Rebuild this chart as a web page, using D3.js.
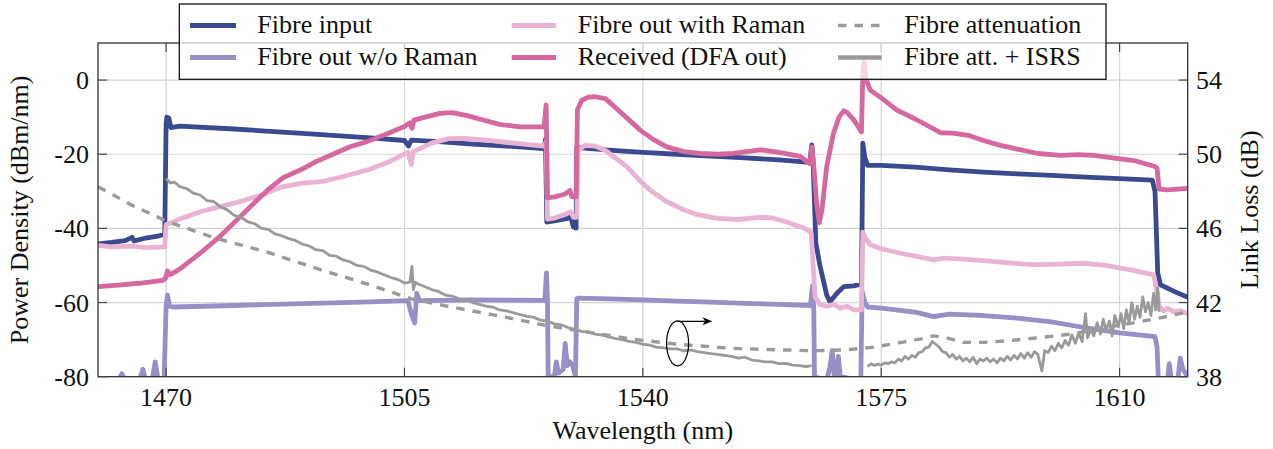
<!DOCTYPE html>
<html><head><meta charset="utf-8"><script src="https://cdn.jsdelivr.net/npm/d3@7"></script></head>
<body style="margin:0">
<svg id="chart" width="1273" height="449"></svg>
<script>
// ---------------- DATA ----------------
const xTicks = [1470, 1505, 1540, 1575, 1610];
const yLeftTicks = [-80, -60, -40, -20, 0];
const yRightTicks = [38, 42, 46, 50, 54];

const seriesNames = ["Fibre input", "Fibre out w/o Raman", "Fibre out with Raman",
  "Received (DFA out)", "Fibre attenuation", "Fibre att. + ISRS"];

// [wavelength nm, dBm/nm]
const fibreInput = [[1460,-44.2],[1462,-43.8],[1464,-43.3],[1465,-42.4],[1465.3,-43.4],[1467,-42.6],[1469,-42],[1469.8,-41.5],[1470,-12],[1470.1,-10],[1470.4,-10.2],[1470.7,-12.8],[1472,-12.4],[1480,-13.2],[1490,-14.4],[1500,-15.6],[1505,-16.3],[1505.6,-17.8],[1506,-16.2],[1510,-16.6],[1515,-17.3],[1520,-17.8],[1525.5,-18.5],[1525.7,-16],[1525.9,-38.3],[1527,-38],[1529,-37.3],[1529.4,-36.8],[1529.8,-39.6],[1530.2,-39.9],[1530.3,-18.2],[1531,-18.3],[1535,-18.9],[1540,-19.5],[1545,-20],[1550,-20.5],[1555,-21],[1560,-21.5],[1564.5,-22.2],[1564.8,-17.5],[1565,-22],[1565.4,-44],[1566,-50],[1567,-58],[1567.5,-59.8],[1568.5,-57.5],[1569.5,-55.7],[1571,-55.5],[1572.1,-55],[1572.3,-17],[1572.6,-21],[1573,-23],[1575,-23],[1580,-23.5],[1585,-24.2],[1590,-24.8],[1595,-25.3],[1600,-25.7],[1605,-26.2],[1610,-26.6],[1614.8,-27],[1615.2,-30],[1615.6,-52],[1616,-55.2],[1618,-57],[1620,-58.6]];

const outNoRaman = [[1460,-81],[1462,-80.5],[1463,-81],[1463.5,-79.2],[1464,-81],[1466.2,-80.5],[1466.6,-78],[1467,-81],[1468,-80.5],[1468.4,-76],[1468.8,-80.5],[1469.7,-81],[1470,-61],[1470.2,-58],[1470.5,-61],[1471,-61.2],[1480,-60.8],[1490,-60.3],[1500,-59.8],[1505.5,-59.5],[1506,-63],[1506.5,-65.5],[1506.8,-57.5],[1507.2,-59.5],[1515,-59.3],[1525.6,-59.4],[1525.85,-52],[1526,-60],[1526.1,-80],[1527,-80],[1527.3,-76],[1527.6,-79],[1528.3,-78],[1528.6,-71],[1528.9,-77],[1529.3,-76],[1529.7,-77],[1530.1,-80],[1530.3,-59],[1530.6,-58.8],[1535,-59],[1540,-59.3],[1545,-59.6],[1550,-59.9],[1555,-60.2],[1560,-60.5],[1564.6,-60.8],[1564.9,-55.5],[1565.1,-62],[1565.2,-80],[1567,-81],[1567.5,-77],[1567.8,-73],[1568.1,-80],[1568.4,-80],[1568.7,-74.5],[1569,-80],[1572,-81],[1572.2,-57],[1572.6,-60],[1573,-61.2],[1575,-61.5],[1580,-62.6],[1582.7,-63.8],[1585,-63.1],[1590,-63.5],[1595,-64.2],[1600,-65.2],[1605,-66.8],[1610,-68.2],[1615.2,-69.2],[1615.5,-72],[1615.7,-81],[1617,-81],[1617.3,-76.5],[1617.6,-81],[1618.6,-80],[1618.9,-75],[1619.3,-78],[1620,-80]];

const outWithRaman = [[1460,-44.6],[1462,-45],[1465,-44.8],[1467,-45.2],[1469.8,-45],[1470,-39],[1470.5,-38.6],[1472,-37.5],[1475,-35.5],[1480,-33.2],[1484,-31],[1487,-28.8],[1490,-27.8],[1493,-27.3],[1496,-26],[1500,-24],[1503,-21.8],[1505.5,-19.5],[1506,-22.8],[1506.3,-19.3],[1509,-17],[1511.5,-15.8],[1514,-15.7],[1517,-16.2],[1521,-17],[1525.5,-17.8],[1525.8,-16.5],[1526,-37.5],[1527,-37.2],[1528.5,-36.3],[1529.4,-35.5],[1529.8,-37],[1530.3,-37],[1530.5,-19],[1531.5,-17.6],[1533,-17.8],[1534.5,-19],[1536,-21],[1537.7,-23.5],[1539.5,-27],[1541,-29.6],[1543.5,-32.8],[1546,-35],[1548,-36.3],[1551,-37.3],[1554,-37.6],[1557,-37],[1559,-37.2],[1561,-38.2],[1563.5,-39.8],[1564.7,-41],[1565,-50],[1565.3,-58.5],[1566,-60.5],[1567,-61],[1568,-60.5],[1569,-61.5],[1570,-61],[1571,-62],[1572.1,-62],[1572.3,-41],[1572.6,-42.5],[1573.4,-44.4],[1575,-45.5],[1577.8,-46.7],[1580,-47.5],[1582.7,-48.5],[1584.2,-48],[1587,-48.3],[1590,-48.7],[1595,-49.5],[1597.4,-49.8],[1600,-49.7],[1604.7,-49.4],[1608,-50],[1612,-51.3],[1615,-52.5],[1615.5,-57],[1615.8,-61],[1616.5,-62.3],[1617,-61.5],[1618,-62.5],[1619,-62.2],[1620,-63]];

const received = [[1460,-55.7],[1463,-55.3],[1466,-54.8],[1469.5,-54],[1469.9,-53.5],[1470.2,-51.5],[1470.6,-52.5],[1472,-51],[1475,-46.7],[1478,-42],[1480.4,-37.7],[1483,-33],[1485,-29.5],[1487.2,-26.3],[1490,-24],[1492,-22],[1494.5,-20],[1497,-18],[1499.5,-16.6],[1502,-14.8],[1505,-12.5],[1505.8,-11.5],[1506.1,-13],[1506.4,-10.8],[1508,-10],[1510.2,-9],[1512,-8.8],[1514.2,-9.6],[1516,-10.5],[1519.1,-12],[1522,-12.6],[1525.5,-12.6],[1525.8,-6.7],[1526,-31.8],[1527,-31.5],[1528.5,-30.8],[1529.3,-29.8],[1529.6,-31.5],[1530.2,-31.5],[1530.4,-8],[1531,-5.5],[1532,-4.6],[1533,-4.5],[1534.5,-5],[1536.2,-7.8],[1538,-10.8],[1539.6,-13.5],[1541.5,-16],[1543.5,-18],[1546,-19.3],[1548.4,-19.8],[1551,-20],[1553.3,-19.8],[1555.5,-19.2],[1557.3,-18.8],[1560,-19.5],[1563.1,-20.6],[1564.5,-22.5],[1564.8,-18],[1565.1,-23],[1565.5,-33],[1565.9,-38.5],[1566.3,-35],[1567,-23.3],[1568,-14.3],[1568.8,-10],[1569.5,-8.3],[1570,-8.8],[1571,-10.8],[1572.1,-14],[1572.3,2],[1572.5,4.8],[1572.8,0],[1573.4,-2.7],[1575,-4.8],[1577.3,-8.1],[1580,-10.5],[1583.7,-14.2],[1585.5,-14.3],[1588,-15],[1590,-16.3],[1592.5,-17.6],[1595,-18.6],[1598,-19.8],[1601.3,-20.3],[1604,-20.1],[1606.2,-20.3],[1609,-21],[1612.1,-21.7],[1615.2,-23.3],[1615.5,-23.8],[1615.8,-29.4],[1617,-29.6],[1620,-29.2]];

// [wavelength nm, link loss dB] (right axis)
const fibreAtt = [[1460,48.25],[1465,47.25],[1470,46.4],[1477,45.5],[1485,44.7],[1492,43.85],[1500,42.95],[1506,42.2],[1512,41.75],[1520,41.2],[1526,40.75],[1532,40.4],[1538,40.05],[1545,39.75],[1553,39.53],[1560,39.45],[1565,39.4],[1570,39.45],[1574,39.6],[1578,39.85],[1581,40.05],[1582.7,40.2],[1584.5,40.1],[1587,39.85],[1590,39.85],[1594,39.95],[1598,40.1],[1603,40.3],[1607,40.6],[1612,40.9],[1617,41.25],[1620,41.5]];

const attIsrsA = [[1470,48.7],[1470.6,48.45],[1471.2,48.5],[1472,48.25],[1473,48.15],[1474,47.9],[1475,47.8],[1476,47.5],[1477,47.45],[1478,47.15],[1479,47.0],[1480,46.7],[1481,46.6],[1482,46.35],[1483,46.25],[1484,46.0],[1485,45.95],[1486,45.7],[1487,45.6],[1488,45.45],[1489,45.35],[1490,45.15],[1491,45.05],[1492,44.85],[1493,44.8],[1494,44.55],[1495,44.5],[1496,44.3],[1497,44.2],[1498,44.0],[1499,43.95],[1500,43.75],[1501,43.65],[1502,43.5],[1503,43.35],[1504,43.25],[1505,43.05],[1505.8,43.1],[1506.1,43.95],[1506.3,42.7],[1506.6,43.1],[1507,43.0],[1508,42.85],[1509,42.7],[1510,42.6],[1511,42.4],[1512,42.35],[1513,42.2],[1514,42.15],[1515,42.0],[1516,41.9],[1517,41.8],[1518,41.75],[1519,41.6],[1520,41.55],[1521,41.45],[1522,41.35],[1523,41.25],[1524,41.2],[1525,41.05],[1526,41.0],[1527,40.85],[1528,40.8],[1529,40.65],[1530,40.55],[1531,40.45],[1532,40.4],[1533,40.3],[1534,40.25],[1535,40.15],[1536,40.05],[1537,40.0],[1538,39.9],[1539,39.85],[1540,39.75],[1541,39.7],[1542,39.6],[1543,39.55],[1544,39.5],[1545,39.5],[1546,39.4],[1547,39.45],[1548,39.35],[1549,39.3],[1550,39.25],[1551,39.2],[1552,39.15],[1553,39.1],[1554,39.0],[1555,39.05],[1556,38.9],[1557,38.85],[1558,38.8],[1559,38.8],[1560,38.7],[1561,38.72],[1562,38.62],[1563,38.6],[1564,38.55],[1564.8,38.6]];

const attIsrsB = [[1573.0,38.55],[1573.5,38.7],[1574.0,38.6],[1574.5,38.68],[1575.0,38.62],[1575.5,38.75],[1576.0,38.7],[1576.5,38.8],[1577.0,38.75],[1577.5,38.95],[1578.0,38.85],[1578.5,39.1],[1579.0,38.95],[1579.5,39.15],[1580.0,39.05],[1580.5,39.3],[1581.0,39.35],[1581.5,39.55],[1582.0,39.6],[1582.5,39.9],[1583.0,39.75],[1583.5,39.6],[1584.0,39.35],[1584.5,39.3],[1585.0,39.05],[1585.5,39.2],[1586.0,38.95],[1586.5,39.1],[1587.0,38.85],[1587.5,39.0],[1588.0,38.8],[1588.5,39.05],[1589.0,38.7],[1589.5,38.95],[1590.0,38.85],[1590.5,39.0],[1591.0,38.8],[1591.5,38.95],[1592.0,38.75],[1592.5,39.0],[1593.0,38.85],[1593.5,39.1],[1594.0,38.9],[1594.5,39.15],[1595.0,38.95],[1595.5,39.25],[1596.0,39.0],[1596.5,39.3],[1597.0,39.05],[1597.5,39.35],[1598.0,39.2],[1598.6,38.3],[1599.0,39.4],[1599.5,39.3],[1600.0,39.65],[1600.5,39.4],[1601.0,39.8],[1601.5,39.55],[1602.0,39.95],[1602.5,39.7],[1603.0,40.25],[1603.5,39.8],[1604.0,40.35],[1604.5,39.9],[1605.0,41.4],[1605.3,40.1],[1605.8,40.6],[1606.2,40.2],[1606.7,40.9],[1607.2,40.3],[1607.6,41.1],[1608.0,40.5],[1608.5,41.0],[1608.9,40.2],[1609.3,41.3],[1609.8,40.7],[1610.2,41.4],[1610.6,40.6],[1611.0,41.6],[1611.4,40.9],[1611.8,42.0],[1612.2,41.1],[1612.6,41.8],[1613.0,41.2],[1613.4,42.3],[1613.8,41.5],[1614.2,42.0],[1614.6,41.3],[1615.0,42.5],[1615.3,41.6],[1615.6,42.8],[1615.8,41.5]];

// annotation anchor (right-axis coordinates)
const ellipseAt = [1545.1, 39.8];
const arrowTo = 1550.2;

// ---------------- DRAW ----------------
const m = {left: 98, right: 1187.7, top: 43, bottom: 376.7};
const FONT = 26;
const colors = {input: "#3b4a8e", noRaman: "#998fc7", withRaman: "#e9b4d3", received: "#d5689f", gray: "#9a9a9a"};
const LW = 4.8;

const svg = d3.select("#chart");
const x = d3.scaleLinear().domain([1460, 1620]).range([m.left, m.right]);
const yL = d3.scaleLinear().domain([-80, 10]).range([m.bottom, m.top]);
const yR = d3.scaleLinear().domain([38, 56]).range([m.bottom, m.top]);

function txt(g, s) {
  return g.append("text").attr("font-size", FONT).style("font-family", "Times New Roman")
    .attr("font-family", "Times New Roman").attr("fill", "#111").text(s);
}

svg.append("defs").append("clipPath").attr("id", "clip")
  .append("rect").attr("x", m.left).attr("y", m.top)
  .attr("width", m.right - m.left).attr("height", m.bottom - m.top);

// grid
const grid = svg.append("g").attr("stroke", "#d4d4d4").attr("stroke-width", 1.2);
xTicks.forEach(t => grid.append("line").attr("x1", x(t)).attr("x2", x(t)).attr("y1", m.top).attr("y2", m.bottom));
yLeftTicks.forEach(t => grid.append("line").attr("x1", m.left).attr("x2", m.right).attr("y1", yL(t)).attr("y2", yL(t)));

// data lines
const plot = svg.append("g").attr("clip-path", "url(#clip)");
const lineL = d3.line().x(d => x(d[0])).y(d => yL(d[1]));
const lineR = d3.line().x(d => x(d[0])).y(d => yR(d[1]));
function draw(data, gen, color, w, dash) {
  const p = plot.append("path").datum(data).attr("d", gen)
    .attr("fill", "none").attr("stroke", color).attr("stroke-width", w)
    .attr("stroke-linejoin", "round").attr("stroke-linecap", "butt");
  if (dash) p.attr("stroke-dasharray", dash);
}
draw(fibreInput, lineL, colors.input, LW);
draw(outNoRaman, lineL, colors.noRaman, LW);
draw(outWithRaman, lineL, colors.withRaman, LW);
draw(received, lineL, colors.received, LW);
draw(fibreAtt, lineR, colors.gray, 3.4, "8.5,8");
draw(attIsrsA, lineR, colors.gray, 2.8);
draw(attIsrsB, lineR, colors.gray, 2.8);

// frame
svg.append("rect").attr("x", m.left).attr("y", m.top)
  .attr("width", m.right - m.left).attr("height", m.bottom - m.top)
  .attr("fill", "none").attr("stroke", "#333").attr("stroke-width", 1.3);

// ticks (inward)
const tk = svg.append("g").attr("stroke", "#444").attr("stroke-width", 1.2);
const TL = 9;
xTicks.forEach(t => {
  tk.append("line").attr("x1", x(t)).attr("x2", x(t)).attr("y1", m.bottom).attr("y2", m.bottom - TL);
  tk.append("line").attr("x1", x(t)).attr("x2", x(t)).attr("y1", m.top).attr("y2", m.top + TL);
});
yLeftTicks.forEach(t => tk.append("line").attr("x1", m.left).attr("x2", m.left + TL).attr("y1", yL(t)).attr("y2", yL(t)));
yRightTicks.forEach(t => tk.append("line").attr("x1", m.right).attr("x2", m.right - TL).attr("y1", yR(t)).attr("y2", yR(t)));

// tick labels
const lab = svg.append("g");
xTicks.forEach(t => txt(lab, t).attr("x", x(t)).attr("y", 406).attr("text-anchor", "middle"));
yLeftTicks.forEach(t => txt(lab, t).attr("x", 89).attr("y", yL(t) + 9).attr("text-anchor", "end"));
yRightTicks.forEach(t => txt(lab, t).attr("x", 1196).attr("y", yR(t) + 9).attr("text-anchor", "start"));

// axis titles
txt(lab, "Wavelength (nm)").attr("x", (m.left + m.right) / 2).attr("y", 439).attr("text-anchor", "middle");
txt(lab, "Power Density (dBm/nm)").attr("transform", `translate(28,${(m.top + m.bottom) / 2}) rotate(-90)`).attr("text-anchor", "middle");
txt(lab, "Link Loss (dB)").attr("transform", `translate(1258,${(m.top + m.bottom) / 2}) rotate(-90)`).attr("text-anchor", "middle");

// annotation: ellipse + arrow
const ex = x(ellipseAt[0]), ey = yR(ellipseAt[1]);
const ann = svg.append("g").attr("stroke", "#000").attr("stroke-width", 1.2).attr("fill", "none");
ann.append("ellipse").attr("cx", ex).attr("cy", ey).attr("rx", 11).attr("ry", 22.5);
ann.append("line").attr("x1", ex).attr("y1", ey - 22).attr("x2", x(arrowTo) - 3).attr("y2", ey - 22);
svg.append("path").attr("fill", "#000")
  .attr("d", `M${x(arrowTo)},${ey - 22} l-10,-4 l3,4 l-3,4 z`);

// legend
const lg = svg.append("g");
lg.append("rect").attr("x", 179.3).attr("y", 4).attr("width", 1106 - 179.3).attr("height", 79.3 - 4)
  .attr("fill", "#fff").attr("fill-opacity", 0.72).attr("stroke", "#111").attr("stroke-width", 1.3);
const legendItems = [
  {name: seriesNames[0], color: colors.input, col: 0, row: 0},
  {name: seriesNames[1], color: colors.noRaman, col: 0, row: 1},
  {name: seriesNames[2], color: colors.withRaman, col: 1, row: 0},
  {name: seriesNames[3], color: colors.received, col: 1, row: 1},
  {name: seriesNames[4], color: colors.gray, col: 2, row: 0, dash: "8.5,8", w: 3.4},
  {name: seriesNames[5], color: colors.gray, col: 2, row: 1, w: 4.5}
];
const colSample = [[190, 236], [511.7, 556], [838, 881.7]];
const colText = [257.3, 577.7, 904.3];
const rowY = [25.5, 57.5];
const rowBase = [32.5, 64.8];
legendItems.forEach(it => {
  const l = lg.append("line").attr("x1", colSample[it.col][0]).attr("x2", colSample[it.col][1])
    .attr("y1", rowY[it.row]).attr("y2", rowY[it.row])
    .attr("stroke", it.color).attr("stroke-width", it.w || 4.8);
  if (it.dash) l.attr("stroke-dasharray", it.dash);
  txt(lg, it.name).attr("x", colText[it.col]).attr("y", rowBase[it.row]);
});
</script>
</body></html>
